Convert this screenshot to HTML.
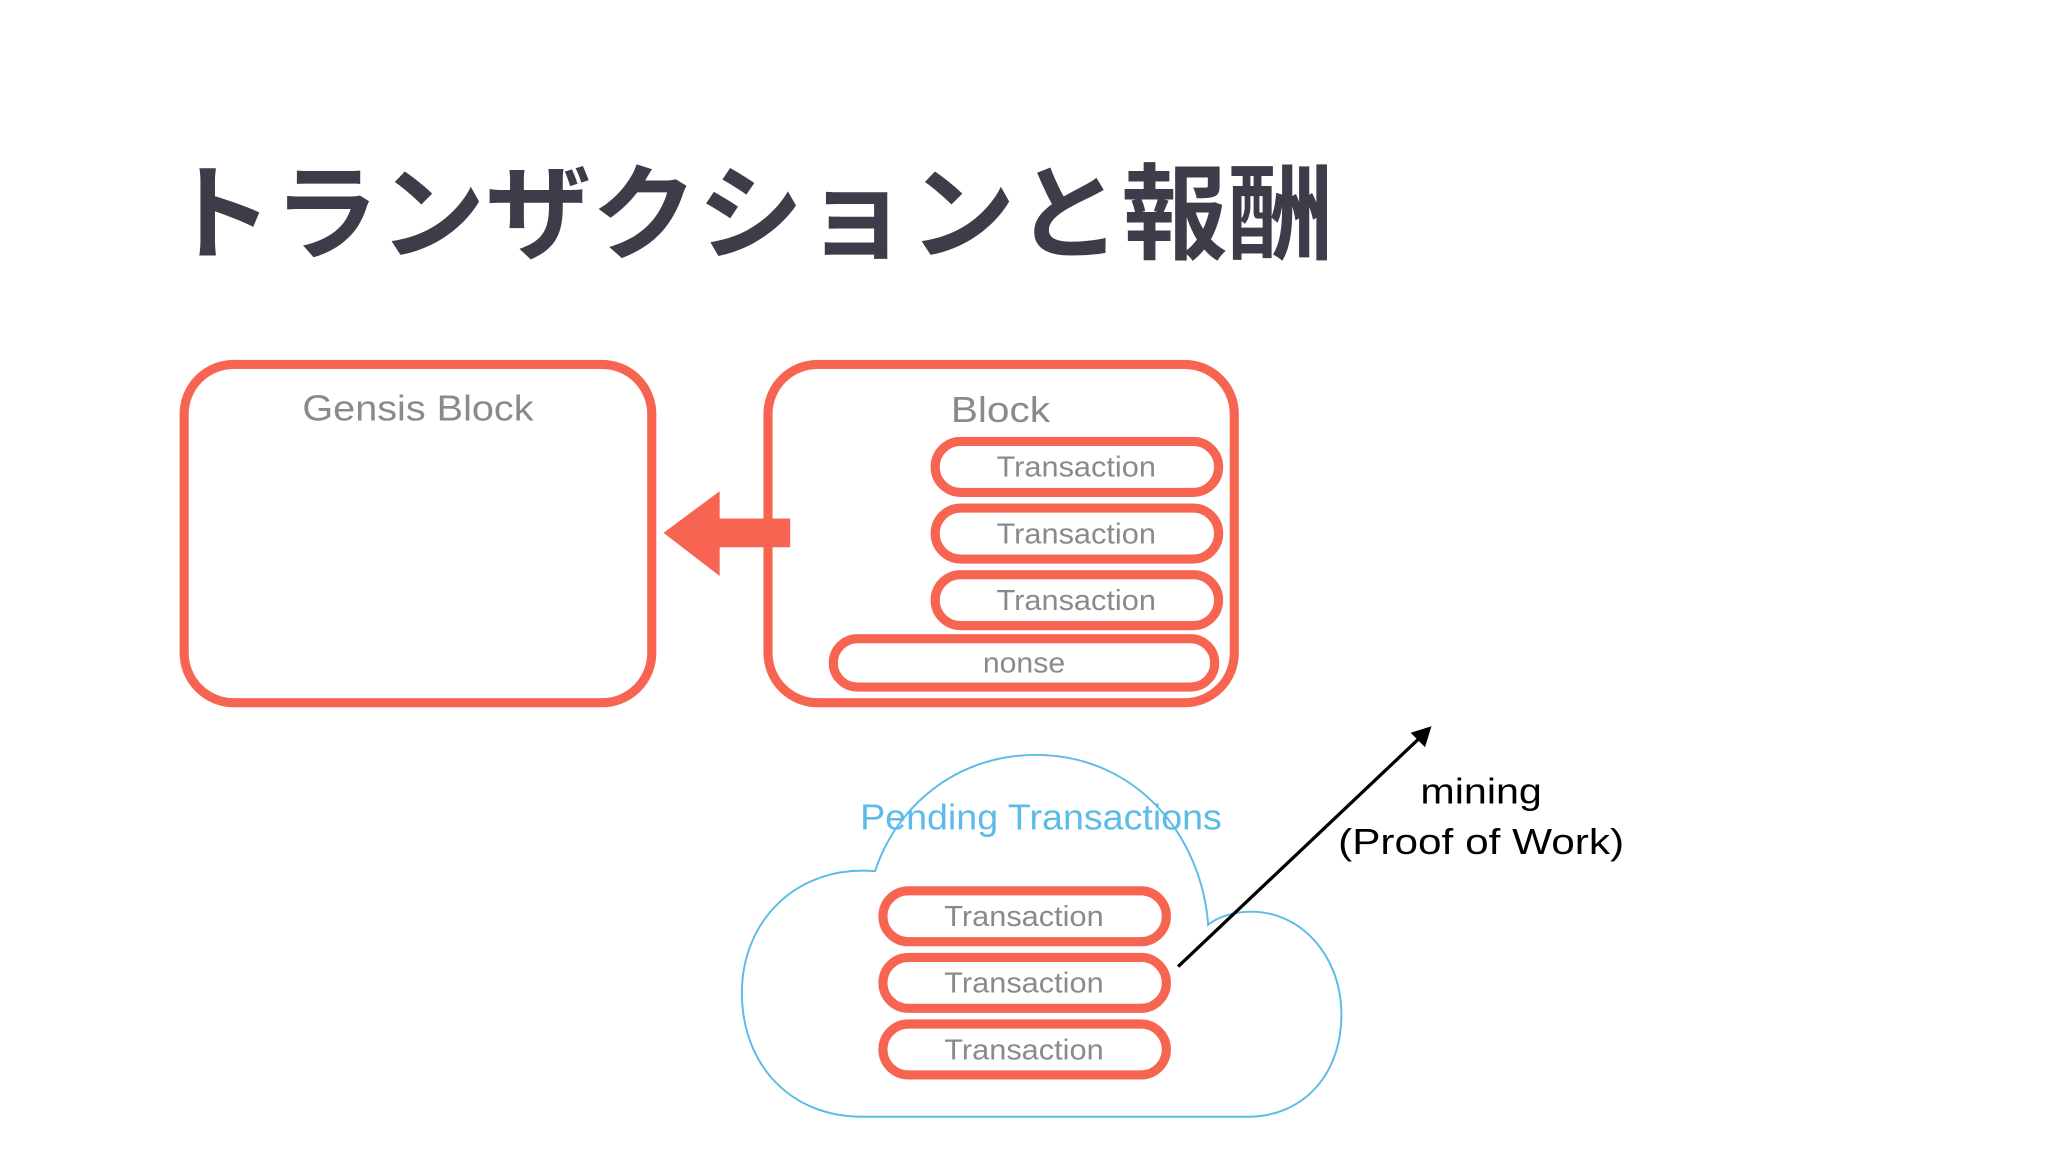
<!DOCTYPE html>
<html><head><meta charset="utf-8"><style>
html,body{margin:0;padding:0;background:#fff;}
svg{display:block;}
text{font-family:"Liberation Sans","Noto Sans CJK JP",sans-serif;}
</style></head><body>
<svg width="2048" height="1152" viewBox="0 0 1568 882" xmlns="http://www.w3.org/2000/svg">
<rect width="1568" height="882" fill="#fff"/>
<text x="128" y="192" font-size="80" font-weight="bold" fill="#3d3d49" font-family="'Noto Sans CJK JP',sans-serif" textLength="893" lengthAdjust="spacingAndGlyphs">トランザクションと報酬</text>
<g fill="none" stroke="#f76552" stroke-width="7">
<rect x="141" y="279" width="358" height="259" rx="38"/>
<rect x="588" y="279" width="357" height="259" rx="38"/>
<rect x="716" y="338" width="217" height="39" rx="19.5"/>
<rect x="716" y="389" width="217" height="39" rx="19.5"/>
<rect x="716" y="440" width="217" height="39" rx="19.5"/>
<rect x="638" y="489" width="292" height="37" rx="18.5"/>
<rect x="676" y="682" width="217" height="39" rx="19.5"/>
<rect x="676" y="733" width="217" height="39" rx="19.5"/>
<rect x="676" y="784" width="217" height="39" rx="19.5"/>
</g>
<polygon points="508,408 551,376 551,397 605,397 605,419 551,419 551,441" fill="#f76552"/>
<path d="M660,855 L955,855 C1000,855 1028,820 1027,775 C1026,730 995,698 958,698 C945,698 932,702 925,708 C920,640 870,578 793,578 C730,578 685,620 670,667 C610,662 568,705 568,760 C568,815 605,855 660,855 Z" fill="none" stroke="#5dbbe9" stroke-width="1.5"/>
<g font-size="28" fill="#8a8a8e" text-anchor="middle">
<text x="320" y="322" textLength="177" lengthAdjust="spacingAndGlyphs">Gensis Block</text>
<text x="766" y="323" textLength="76" lengthAdjust="spacingAndGlyphs">Block</text>
</g>
<g font-size="22" fill="#8a8a8e" text-anchor="middle">
<text x="824" y="365" textLength="122" lengthAdjust="spacingAndGlyphs">Transaction</text>
<text x="824" y="416" textLength="122" lengthAdjust="spacingAndGlyphs">Transaction</text>
<text x="824" y="467" textLength="122" lengthAdjust="spacingAndGlyphs">Transaction</text>
<text x="784" y="515" textLength="63" lengthAdjust="spacingAndGlyphs">nonse</text>
<text x="784" y="709" textLength="122" lengthAdjust="spacingAndGlyphs">Transaction</text>
<text x="784" y="760" textLength="122" lengthAdjust="spacingAndGlyphs">Transaction</text>
<text x="784" y="811" textLength="122" lengthAdjust="spacingAndGlyphs">Transaction</text>
</g>
<text x="797" y="635" font-size="28" fill="#5dbbe9" text-anchor="middle" textLength="277" lengthAdjust="spacingAndGlyphs">Pending Transactions</text>
<line x1="902" y1="740" x2="1088" y2="564" stroke="#000" stroke-width="2.5"/>
<polygon points="1096,556 1091,572 1080,561" fill="#000"/>
<g font-size="28" fill="#000" text-anchor="middle">
<text x="1134" y="615" textLength="93" lengthAdjust="spacingAndGlyphs">mining</text>
<text x="1134" y="654" textLength="219" lengthAdjust="spacingAndGlyphs">(Proof of Work)</text>
</g>
</svg>
</body></html>
